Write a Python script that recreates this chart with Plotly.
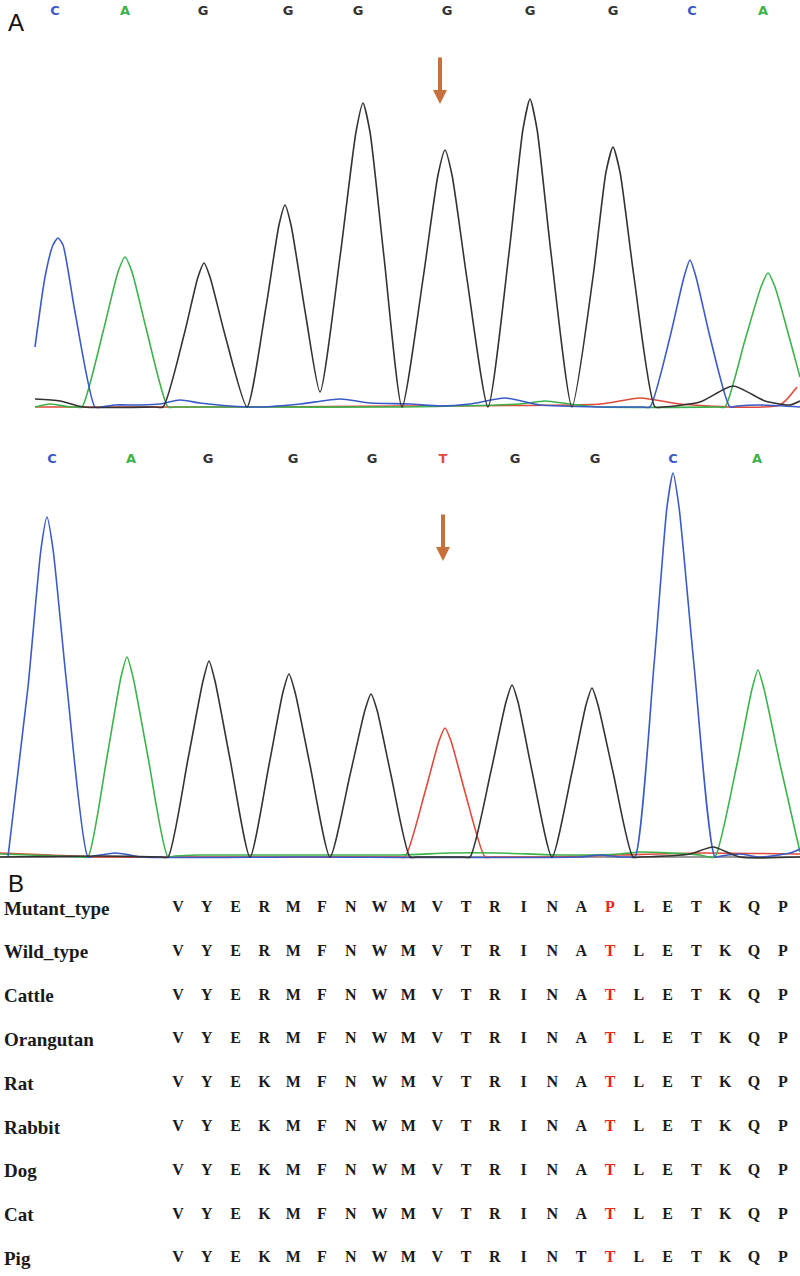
import plotly.graph_objects as go

# ---- panel A, upper trace (wild type), intensity ----
top_g_x = [35, 60, 83, 155, 163, 184, 198, 204, 210, 225, 247, 266, 279, 285, 291, 306, 320,
           340, 356, 363, 370, 384, 402, 423, 438, 445, 452, 467, 488, 509, 523, 530, 537,
           551, 572, 593, 606, 613, 620, 634, 655, 663, 700, 733, 765, 790, 800]
top_g_y = [8, 6, 0, 0, 0, 72, 130, 144, 130, 72, 0, 100, 182, 202, 182, 90, 15,
           150, 275, 304, 275, 150, 0, 128, 232, 257, 232, 128, 0, 154, 278, 308, 278,
           154, 0, 130, 235, 260, 235, 130, 0, 0, 5, 21, 6, 2, 6]

top_c_x = [35, 45, 53, 58, 63, 75, 95, 102, 115, 140, 160, 180, 200, 230, 260, 300, 340, 370,
           410, 440, 470, 505, 540, 600, 643, 650, 670, 684, 690, 696, 710, 730, 737, 760, 800]
top_c_y = [60, 130, 162, 169, 162, 95, 0, 0, 2, 2, 3, 7, 4, 1, 0, 3, 8, 4,
           3, 1, 3, 9, 2, 0, 0, 0, 70, 130, 147, 130, 70, 0, 1, 2, 0]

top_a_x = [35, 50, 70, 76, 82, 103, 118, 125, 132, 147, 168, 175, 230, 400, 520, 545, 570, 600,
           718, 725, 745, 761, 768, 775, 790, 800]
top_a_y = [0, 3, 0, 0, 0, 75, 135, 150, 135, 75, 0, 0, 0, 0, 3, 6, 3, 0,
           0, 0, 67, 120, 134, 120, 67, 30]

top_t_x = [35, 160, 250, 400, 600, 640, 680, 730, 780, 797]
top_t_y = [0, 0, 0, 1, 3, 9, 3, 0, 2, 20]

# ---- panel A, lower trace (mutant) ----
bot_c_x = [8, 28, 41, 47, 53, 67, 88, 94, 115, 130, 140, 300, 580, 600, 620,
           629, 635, 654, 667, 673, 679, 694, 715, 721, 740, 760, 790, 800]
bot_c_y = [0, 170, 308, 340, 308, 170, 0, 1, 4, 2, 0, 0, 0, 2, 0,
           0, 0, 192, 350, 384, 350, 192, 0, 1, 3, 0, 4, 8]

bot_a_x = [0, 60, 82, 88, 107, 121, 127, 133, 148, 168, 175, 200, 400, 450, 500, 560, 620, 640,
           700, 709, 715, 737, 752, 758, 764, 780, 800]
bot_a_y = [3, 1, 0, 0, 100, 180, 200, 180, 100, 0, 1, 2, 2, 4, 4, 2, 3, 5,
           2, 0, 0, 93, 168, 187, 168, 93, 5]

bot_g_x = [0, 100, 161, 168, 188, 203, 209, 215, 230, 250, 269, 283, 289, 295, 310, 330,
           350, 365, 371, 377, 391, 410, 417, 463, 470, 491, 506, 512, 518, 532, 552, 572, 586,
           592, 598, 613, 633, 640, 690, 713, 740, 800]
bot_g_y = [0, 1, 0, 0, 98, 176, 196, 176, 98, 0, 92, 165, 183, 165, 92, 0,
           82, 147, 163, 147, 82, 0, 0, 0, 0, 86, 155, 172, 155, 86, 0, 85, 152,
           169, 152, 85, 0, 0, 3, 10, 0, 0]

bot_t_x = [0, 50, 100, 398, 405, 425, 439, 445, 451, 465, 485, 492, 550, 620, 700, 800]
bot_t_y = [4, 2, 0, 0, 0, 65, 116, 129, 116, 65, 0, 0, 0, 2, 4, 3]

# base calls
top_calls = ["C", "A", "G", "G", "G", "G", "G", "G", "C", "A"]
top_call_x = [55, 125, 203, 288, 358, 447, 530, 613, 692, 763]
bot_calls = ["C", "A", "G", "G", "G", "T", "G", "G", "C", "A"]
bot_call_x = [52, 131, 208, 293, 372, 443, 515, 595, 673, 757]

# ---- panel B, alignment ----
species = ["Mutant_type", "Wild_type", "Cattle", "Orangutan", "Rat", "Rabbit", "Dog", "Cat", "Pig"]
sequences = [
    "VYERMFNWMVTRINAPLETKQP",
    "VYERMFNWMVTRINATLETKQP",
    "VYERMFNWMVTRINATLETKQP",
    "VYERMFNWMVTRINATLETKQP",
    "VYEKMFNWMVTRINATLETKQP",
    "VYEKMFNWMVTRINATLETKQP",
    "VYEKMFNWMVTRINATLETKQP",
    "VYEKMFNWMVTRINATLETKQP",
    "VYEKMFNWMVTRINTTLETKQP",
]
mutation_col = 15

base_colors = {"C": "#3a5bc7", "A": "#3cb34a", "G": "#333333", "T": "#e04a3a"}
arrow_color = "#c8703a"

fig = go.Figure()

def add_trace(x, y, base, xa, ya):
    fig.add_trace(go.Scatter(
        x=x, y=y, mode="lines", xaxis=xa, yaxis=ya,
        line=dict(color=base_colors[base], width=1.6, shape="spline", smoothing=0.6),
        hoverinfo="skip", showlegend=False
    ))

add_trace(top_t_x, top_t_y, "T", "x", "y")
add_trace(top_a_x, top_a_y, "A", "x", "y")
add_trace(top_c_x, top_c_y, "C", "x", "y")
add_trace(top_g_x, top_g_y, "G", "x", "y")

add_trace(bot_t_x, bot_t_y, "T", "x2", "y2")
add_trace(bot_a_x, bot_a_y, "A", "x2", "y2")
add_trace(bot_c_x, bot_c_y, "C", "x2", "y2")
add_trace(bot_g_x, bot_g_y, "G", "x2", "y2")

# base call letters
fig.add_trace(go.Scatter(
    x=top_call_x, y=[395] * len(top_calls), mode="text", text=top_calls,
    textfont=dict(family="DejaVu Sans", size=13, weight="bold",
                  color=[base_colors[b] for b in top_calls]),
    xaxis="x", yaxis="y", hoverinfo="skip", showlegend=False
))
fig.add_trace(go.Scatter(
    x=bot_call_x, y=[397] * len(bot_calls), mode="text", text=bot_calls,
    textfont=dict(family="DejaVu Sans", size=13, weight="bold",
                  color=[base_colors[b] for b in bot_calls]),
    xaxis="x2", yaxis="y2", hoverinfo="skip", showlegend=False
))

# alignment letters
aa_x, aa_y, aa_t, aa_c = [], [], [], []
for i, seq in enumerate(sequences):
    for j, aa in enumerate(seq):
        aa_x.append(j)
        aa_y.append(i)
        aa_t.append(aa)
        aa_c.append("#e8271f" if j == mutation_col else "#1a1a1a")
fig.add_trace(go.Scatter(
    x=aa_x, y=aa_y, mode="text", text=aa_t,
    textfont=dict(family="Liberation Serif", size=16, weight="bold", color=aa_c),
    xaxis="x3", yaxis="y3", hoverinfo="skip", showlegend=False
))

for i, name in enumerate(species):
    fig.add_annotation(
        x=0.003, xref="paper", y=i, yref="y3", text=name, showarrow=False,
        xanchor="left", yanchor="middle",
        font=dict(family="Liberation Serif", size=19, weight="bold", color="#1a1a1a")
    )

# arrows marking the mutation site
fig.add_annotation(x=440, y=303, xref="x", yref="y", ax=0, ay=-48, text="",
                   showarrow=True, arrowhead=2, arrowsize=0.7, arrowwidth=4,
                   arrowcolor=arrow_color)
fig.add_annotation(x=443, y=296, xref="x2", yref="y2", ax=0, ay=-48, text="",
                   showarrow=True, arrowhead=2, arrowsize=0.7, arrowwidth=4,
                   arrowcolor=arrow_color)

# panel letters
fig.add_annotation(x=0.0075, xref="paper", y=1 - 22 / 1276, yref="paper", text="A",
                   showarrow=False, xanchor="left", yanchor="middle",
                   font=dict(family="Liberation Sans", size=24, color="#111111"))
fig.add_annotation(x=0.0075, xref="paper", y=1 - 884 / 1276, yref="paper", text="B",
                   showarrow=False, xanchor="left", yanchor="middle",
                   font=dict(family="Liberation Sans", size=24, color="#111111"))

H = 1276
hidden = dict(showgrid=False, zeroline=False, showticklabels=False, ticks="", showline=False)

fig.update_layout(
    width=800, height=H,
    margin=dict(l=0, r=0, t=0, b=0),
    paper_bgcolor="white", plot_bgcolor="white",
    showlegend=False,
    xaxis=dict(hidden, range=[0, 800], domain=[0, 1], anchor="y"),
    yaxis=dict(hidden, range=[-5, 407], domain=[1 - 412 / H, 1], anchor="x"),
    xaxis2=dict(hidden, range=[0, 800], domain=[0, 1], anchor="y2"),
    yaxis2=dict(hidden, range=[-5, 427], domain=[1 - 862 / H, 1 - 430 / H], anchor="x2",
                zeroline=True, zerolinecolor="#9a9a9a", zerolinewidth=1.5),
    xaxis3=dict(hidden, range=[-178 / 28.8, 622 / 28.8], domain=[0, 1], anchor="y3"),
    yaxis3=dict(hidden, range=[368 / 43.8, -28 / 43.8], domain=[0, 1 - 880 / H], anchor="x3"),
)

fig.write_html("out.html", config={"displayModeBar": False},
               post_script="document.body.style.margin='0';")
